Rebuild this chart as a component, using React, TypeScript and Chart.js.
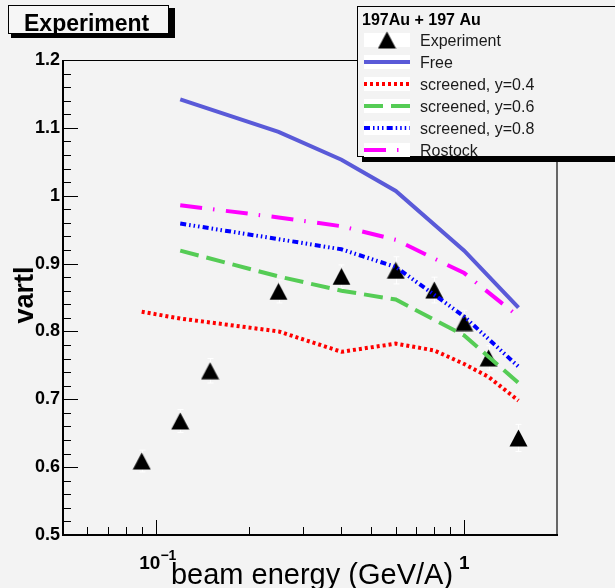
import React, { useEffect, useRef } from 'react';
import { Chart, registerables } from 'chart.js';

Chart.register(...registerables);

// ---------- data ----------
const expEnergy = [0.09, 0.12, 0.15, 0.25, 0.4, 0.6, 0.8, 1.0, 1.2, 1.5];
const expVartl = [0.609, 0.668, 0.742, 0.859, 0.881, 0.89, 0.861, 0.813, 0.761, 0.643];
const expErr = [0.016, 0.017, 0.018, 0.017, 0.017, 0.02, 0.019, 0.018, 0.018, 0.02];

const freeEnergy = [0.12, 0.25, 0.4, 0.6, 1.0, 1.5];
const freeVartl = [1.142, 1.094, 1.053, 1.007, 0.919, 0.835];

const scr04Energy = [0.09, 0.12, 0.25, 0.4, 0.6, 0.8, 1.0, 1.2, 1.5];
const scr04Vartl = [0.829, 0.819, 0.8, 0.77, 0.782, 0.772, 0.752, 0.733, 0.698];

const scr06Energy = [0.12, 0.25, 0.4, 0.6, 1.0, 1.5];
const scr06Vartl = [0.919, 0.881, 0.86, 0.847, 0.794, 0.724];

const scr08Energy = [0.12, 0.25, 0.4, 0.6, 0.8, 1.0, 1.5];
const scr08Vartl = [0.959, 0.936, 0.921, 0.895, 0.854, 0.822, 0.748];

const rostockEnergy = [0.12, 0.25, 0.4, 0.6, 1.0, 1.5];
const rostockVartl = [0.986, 0.968, 0.955, 0.935, 0.886, 0.822];

const xMajorTicks = [0.1, 1];
const xMajorBase = ['10', '1'];
const xMajorExp = ['\u22121', ''];
const xMinorTicks = [0.06, 0.07, 0.08, 0.09, 0.2, 0.3, 0.4, 0.5, 0.6, 0.7, 0.8, 0.9];

const yMajorTicks = [0.5, 0.6, 0.7, 0.8, 0.9, 1.0, 1.1, 1.2];
const yMajorLabels = ['0.5', '0.6', '0.7', '0.8', '0.9', '1', '1.1', '1.2'];

const legendTitle = '197Au + 197 Au';
const expLabel = 'Experiment';
const plotTitle = 'Experiment';
const xTitle = 'beam energy (GeV/A)';
const yTitle = 'vartl';

// ---------- styles ----------
const FONT = "'Liberation Sans', Arial, Helvetica, sans-serif";
const BG = '#f3f3f3';

const lineSeries = [
  { label: 'Free', xs: freeEnergy, ys: freeVartl, color: '#5a5ad8', dash: [] as number[] },
  { label: 'screened, y=0.4', xs: scr04Energy, ys: scr04Vartl, color: '#ff0000', dash: [3, 3] },
  { label: 'screened, y=0.6', xs: scr06Energy, ys: scr06Vartl, color: '#55cc55', dash: [19, 8] },
  { label: 'screened, y=0.8', xs: scr08Energy, ys: scr08Vartl, color: '#0000ff', dash: [6, 3, 1.5, 3, 1.5, 3, 1.5, 3.2] },
  { label: 'Rostock', xs: rostockEnergy, ys: rostockVartl, color: '#ff00ff', dash: [22, 11, 1.5, 11.5] },
];

const LINE_W = 4;

function makeTriangle(): HTMLCanvasElement {
  const c = document.createElement('canvas');
  c.width = 19;
  c.height = 18;
  const g = c.getContext('2d')!;
  g.fillStyle = '#000';
  g.beginPath();
  g.moveTo(9.5, 0.5);
  g.lineTo(18.5, 17.5);
  g.lineTo(0.5, 17.5);
  g.closePath();
  g.fill();
  return c;
}

function makeDecorPlugin(tri: HTMLCanvasElement) {
  return {
    id: 'decor',
    beforeDraw(chart: any) {
      const ctx = chart.ctx;
      ctx.save();
      ctx.fillStyle = BG;
      ctx.fillRect(0, 0, chart.width, chart.height);
      ctx.restore();
    },
    beforeDatasetsDraw(chart: any) {
      const ctx = chart.ctx;
      const xs = chart.scales.x;
      const ys = chart.scales.y;
      ctx.save();
      ctx.strokeStyle = '#ffffff';
      ctx.lineWidth = 1;
      for (let i = 0; i < expEnergy.length; i++) {
        const px = Math.round(xs.getPixelForValue(expEnergy[i])) + 0.5;
        const y1 = ys.getPixelForValue(expVartl[i] - expErr[i]);
        const y2 = ys.getPixelForValue(expVartl[i] + expErr[i]);
        ctx.beginPath();
        ctx.moveTo(px, y1);
        ctx.lineTo(px, y2);
        ctx.moveTo(px - 3, y1);
        ctx.lineTo(px + 3, y1);
        ctx.moveTo(px - 3, y2);
        ctx.lineTo(px + 3, y2);
        ctx.stroke();
      }
      ctx.restore();
    },
    afterDraw(chart: any) {
      const ctx = chart.ctx as CanvasRenderingContext2D;
      const { left, right, top, bottom } = chart.chartArea;
      const xs = chart.scales.x;
      const ys = chart.scales.y;
      ctx.save();

      // frame
      ctx.strokeStyle = '#000';
      ctx.lineWidth = 1;
      ctx.beginPath();
      ctx.moveTo(left, top + 0.5);
      ctx.lineTo(right, top + 0.5);
      ctx.stroke();
      ctx.strokeStyle = '#666';
      ctx.lineWidth = 2;
      ctx.beginPath();
      ctx.moveTo(right, top);
      ctx.lineTo(right, bottom);
      ctx.stroke();
      ctx.strokeStyle = '#000';
      ctx.lineWidth = 2;
      ctx.beginPath();
      ctx.moveTo(left, top);
      ctx.lineTo(left, bottom);
      ctx.lineTo(right + 1, bottom);
      ctx.stroke();

      // ticks (inward)
      ctx.lineWidth = 1;
      for (const t of ys.ticks) {
        const major = yMajorTicks.some((v) => Math.abs(v - t.value) < 1e-6);
        const py = Math.round(ys.getPixelForValue(t.value)) + 0.5;
        ctx.beginPath();
        ctx.moveTo(left, py);
        ctx.lineTo(left + (major ? 15 : 8), py);
        ctx.stroke();
      }
      for (const t of xs.ticks) {
        const major = xMajorTicks.indexOf(t.value) >= 0;
        const px = Math.round(xs.getPixelForValue(t.value)) + 0.5;
        ctx.beginPath();
        ctx.moveTo(px, bottom);
        ctx.lineTo(px, bottom - (major ? 15 : 8));
        ctx.stroke();
      }

      // x tick labels (with superscript exponent)
      ctx.fillStyle = '#000';
      ctx.textBaseline = 'alphabetic';
      xMajorTicks.forEach((v, i) => {
        const px = xs.getPixelForValue(v);
        ctx.font = `bold 19px ${FONT}`;
        const wb = ctx.measureText(xMajorBase[i]).width;
        ctx.font = `bold 14px ${FONT}`;
        const we = xMajorExp[i] ? ctx.measureText(xMajorExp[i]).width : 0;
        const x0 = px - (wb + we) / 2 + (we ? 2 : 0);
        ctx.font = `bold 19px ${FONT}`;
        ctx.textAlign = 'left';
        ctx.fillText(xMajorBase[i], x0, bottom + 34);
        if (we) {
          ctx.font = `bold 14px ${FONT}`;
          ctx.fillText(xMajorExp[i], x0 + wb, bottom + 25);
        }
      });

      // axis titles
      ctx.font = `29px ${FONT}`;
      ctx.textAlign = 'center';
      ctx.fillText(xTitle, 312, 584);

      ctx.save();
      ctx.translate(33, 295);
      ctx.rotate(-Math.PI / 2);
      ctx.font = `bold 27px ${FONT}`;
      ctx.textAlign = 'center';
      ctx.fillText(yTitle, 0, 0);
      ctx.restore();

      // title box
      ctx.fillStyle = '#000';
      ctx.fillRect(11, 8, 164, 30);
      ctx.fillStyle = '#f6f6f6';
      ctx.fillRect(8, 5, 161, 29);
      ctx.strokeStyle = '#000';
      ctx.lineWidth = 1;
      ctx.strokeRect(8.5, 5.5, 160, 28);
      ctx.fillStyle = '#000';
      ctx.font = `bold 23px ${FONT}`;
      ctx.textAlign = 'left';
      ctx.fillText(plotTitle, 24, 31);

      // legend box
      const lx = 357;
      const ly = 6;
      ctx.fillStyle = '#000';
      ctx.fillRect(lx + 5, ly + 5, 300, 151);
      ctx.fillStyle = BG;
      ctx.fillRect(lx, ly, 300, 151);
      ctx.strokeStyle = '#000';
      ctx.lineWidth = 1;
      ctx.strokeRect(lx + 0.5, ly + 0.5, 300, 150);

      ctx.fillStyle = '#000';
      ctx.font = `bold 16px ${FONT}`;
      ctx.fillText(legendTitle, 362, 25);

      const rows = [expLabel, ...lineSeries.map((s) => s.label)];
      ctx.font = `16px ${FONT}`;
      rows.forEach((label, i) => {
        const cy = 40 + i * 22;
        ctx.fillStyle = '#ffffff';
        ctx.fillRect(364, cy - 7, 46, 14);
        if (i === 0) {
          ctx.drawImage(tri, 387 - tri.width / 2, cy - tri.height / 2);
        } else {
          const s = lineSeries[i - 1];
          ctx.strokeStyle = s.color;
          ctx.lineWidth = LINE_W;
          ctx.setLineDash(s.dash);
          ctx.beginPath();
          ctx.moveTo(364, cy);
          ctx.lineTo(410, cy);
          ctx.stroke();
          ctx.setLineDash([]);
        }
        ctx.fillStyle = '#1a1a1a';
        ctx.fillText(label, 420, cy + 6);
      });

      ctx.restore();
    },
  };
}

export default function App() {
  const canvasRef = useRef<HTMLCanvasElement | null>(null);

  useEffect(() => {
    document.body.style.margin = '0';
    document.body.style.background = BG;
    const canvas = canvasRef.current;
    if (!canvas) return;
    const tri = makeTriangle();

    const datasets: any[] = lineSeries.map((s) => ({
      label: s.label,
      data: s.xs.map((x, i) => ({ x, y: s.ys[i] })),
      showLine: true,
      borderColor: s.color,
      borderWidth: LINE_W,
      borderDash: s.dash,
      pointRadius: 0,
      fill: false,
      tension: 0,
      order: 1,
    }));
    datasets.unshift({
      label: expLabel,
      data: expEnergy.map((x, i) => ({ x, y: expVartl[i] })),
      showLine: false,
      pointStyle: tri,
      pointRadius: 9,
      backgroundColor: '#000',
      borderColor: '#000',
      borderWidth: 0,
      order: 10,
    });

    const chart = new Chart(canvas, {
      type: 'scatter',
      data: { datasets },
      plugins: [makeDecorPlugin(tri)],
      options: {
        animation: false,
        responsive: false,
        devicePixelRatio: 1,
        layout: { padding: { top: 60, right: 58, left: 0, bottom: 0 } },
        plugins: {
          legend: { display: false },
          tooltip: { enabled: false },
          title: { display: false },
        },
        scales: {
          x: {
            type: 'logarithmic',
            min: 0.05,
            max: 2,
            grid: { display: false, drawTicks: false },
            border: { display: false },
            afterBuildTicks: (scale: any) => {
              scale.ticks = [...xMinorTicks, ...xMajorTicks]
                .sort((a, b) => a - b)
                .map((v) => ({ value: v }));
            },
            afterFit: (scale: any) => {
              scale.height = 53;
            },
            ticks: {
              display: false,
              autoSkip: false,
              maxRotation: 0,
            },
          },
          y: {
            type: 'linear',
            min: 0.5,
            max: 1.2,
            grid: { display: false, drawTicks: false },
            border: { display: false },
            afterBuildTicks: (scale: any) => {
              const t: any[] = [];
              for (let i = 0; i <= 35; i++) t.push({ value: Math.round((0.5 + i * 0.02) * 100) / 100 });
              scale.ticks = t;
            },
            afterFit: (scale: any) => {
              scale.width = 63;
            },
            ticks: {
              autoSkip: false,
              padding: 3,
              color: '#000',
              font: { family: FONT, size: 18, weight: 'bold' },
              callback: (v: any) => {
                const i = yMajorTicks.findIndex((m) => Math.abs(m - Number(v)) < 1e-6);
                return i >= 0 ? yMajorLabels[i] : '';
              },
            },
          },
        },
      },
    });

    return () => chart.destroy();
  }, []);

  return (
    <div style={{ width: 615, height: 588, background: BG }}>
      <canvas ref={canvasRef} width={615} height={588} style={{ display: 'block' }} />
    </div>
  );
}
